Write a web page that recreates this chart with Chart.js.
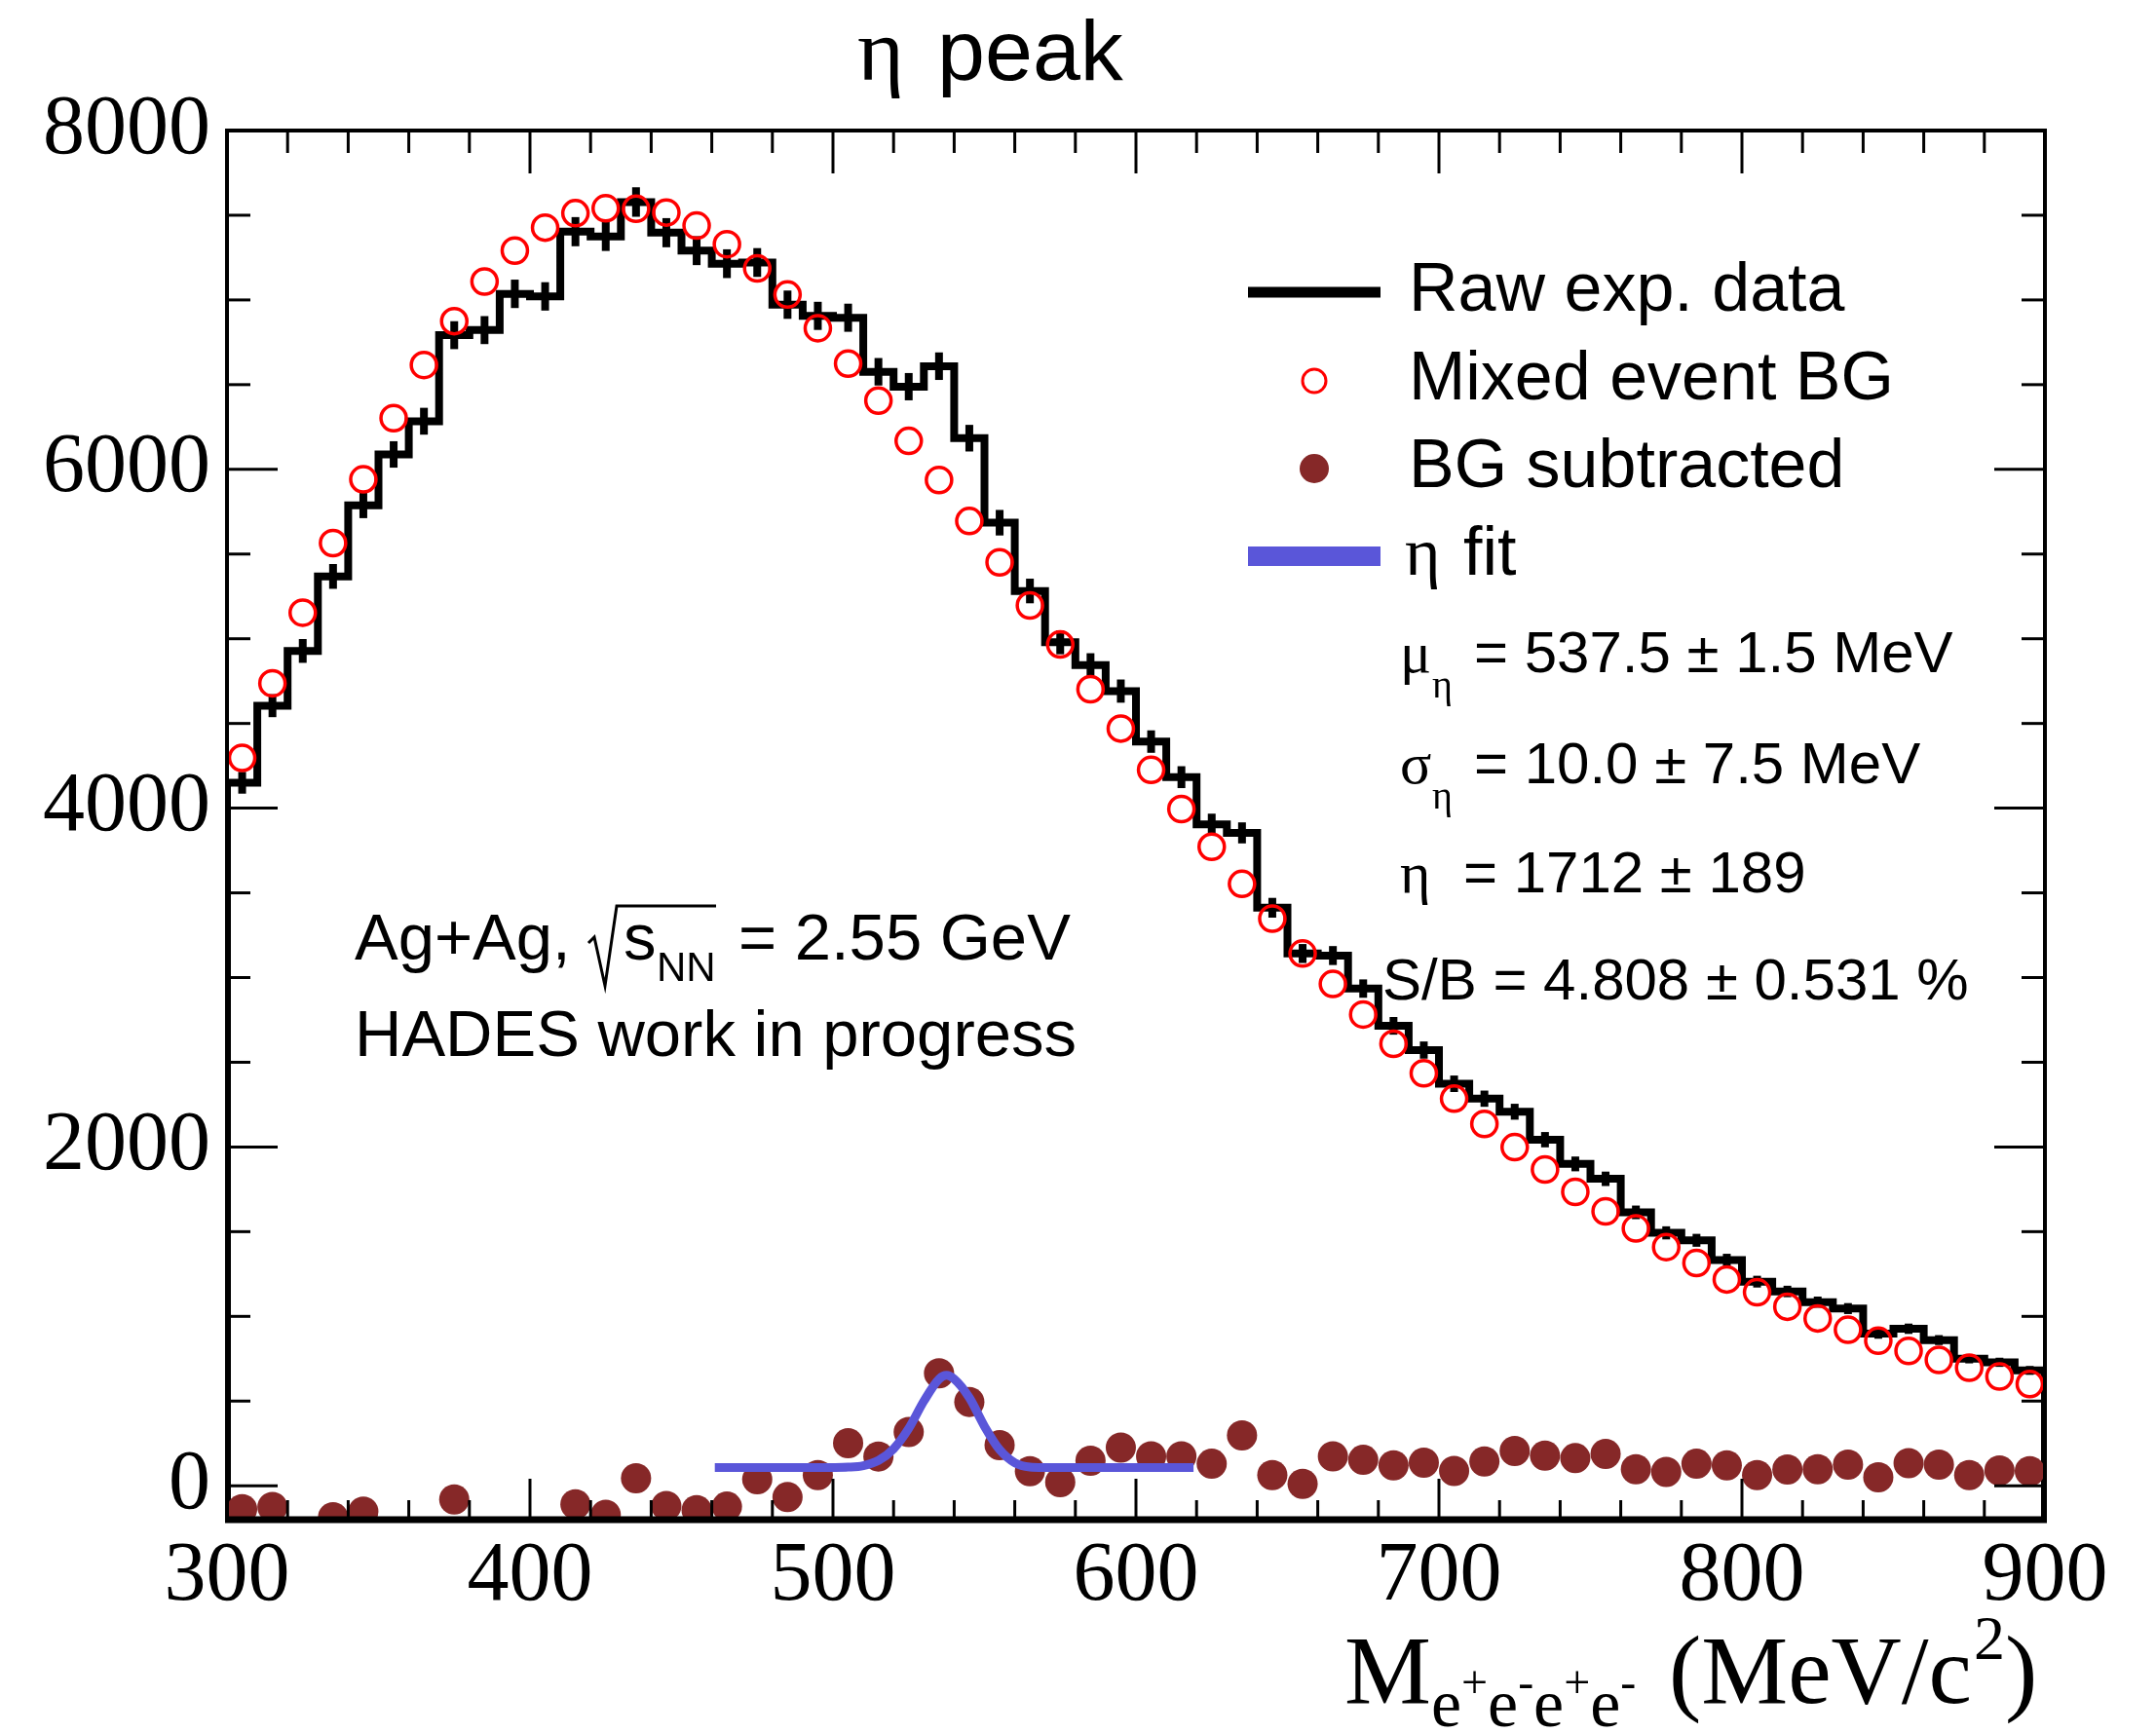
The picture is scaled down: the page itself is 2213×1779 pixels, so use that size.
<!DOCTYPE html>
<html>
<head>
<meta charset="utf-8">
<title>eta peak</title>
<script src="https://cdn.jsdelivr.net/npm/chart.js@4.4.0/dist/chart.umd.min.js"></script>
<style>
  html, body { margin: 0; padding: 0; background: #fff; }
  #wrap { width: 2213px; height: 1779px; position: relative; }
</style>
</head>
<body>
<div id="wrap"><canvas id="chart"></canvas></div>
<script>
// 10 MeV bins, 300..900 MeV
const binWidth = 10;
const massBins = [
  305, 315, 325, 335, 345, 355, 365, 375, 385, 395,
  405, 415, 425, 435, 445, 455, 465, 475, 485, 495,
  505, 515, 525, 535, 545, 555, 565, 575, 585, 595,
  605, 615, 625, 635, 645, 655, 665, 675, 685, 695,
  705, 715, 725, 735, 745, 755, 765, 775, 785, 795,
  805, 815, 825, 835, 845, 855, 865, 875, 885, 895
];
const rawCounts = [
  4150, 4605, 4928, 5368, 5788, 6088, 6284, 6792, 6822, 7036,
  7021, 7403, 7375, 7578, 7397, 7291, 7214, 7221, 6972, 6906,
  6895, 6576, 6488, 6609, 6184, 5685, 5282, 4979, 4845, 4691,
  4393, 4183, 3905, 3854, 3412, 3142, 3130, 2935, 2715, 2572,
  2373, 2285, 2208, 2043, 1900, 1812, 1614, 1493, 1449, 1333,
  1205, 1147, 1084, 1046, 898, 927, 860, 750, 729, 681
];
const mixedBG = [
  4297, 4737, 5154, 5565, 5941, 6302, 6616, 6875, 7109, 7291,
  7427, 7512, 7541, 7538, 7516, 7439, 7329, 7186, 7032, 6833,
  6624, 6406, 6168, 5937, 5695, 5451, 5197, 4966, 4702, 4470,
  4226, 3995, 3772, 3553, 3348, 3142, 2962, 2782, 2609, 2435,
  2285, 2136, 1999, 1867, 1735, 1620, 1519, 1409, 1315, 1218,
  1142, 1057, 988, 921, 856, 796, 743, 697, 645, 601
];
// points below the axis range are not shown in the picture
const bgSubtracted = [
  -138, -125, null, -186, -152, null, null, -81, null, null,
  null, -109, -171, 44, -119, -144, -123, 38, -67, 63,
  251, 173, 318, 664, 495, 240, 86, 21, 148, 226,
  174, 174, 130, 297, 63, 11, 174, 153, 121, 136,
  88, 144, 205, 178, 163, 188, 98, 82, 130, 121,
  63, 96, 98, 125, 50, 134, 125, 63, 90, 86
];
const fitMass = [461, 480, 500, 505, 510, 515, 520, 525, 530, 535, 537.5, 540, 545, 550, 555, 560, 565, 570, 580, 600, 619];
const fitValues = [107, 107, 108, 110, 119, 149, 218, 338, 500, 630, 652, 630, 520, 351, 213, 136, 111, 108, 107, 107, 107];

const xTickLabels = [300, 400, 500, 600, 700, 800, 900];
const yTickLabels = [0, 2000, 4000, 6000, 8000];
const xRange = [300, 900];
const yRange = [-200, 8000];

const SANS = '"Liberation Sans", Arial, Helvetica, sans-serif';
const SERIF = '"Liberation Serif", "Times New Roman", serif';
const RED = '#ff0000';
const BROWN = '#862828';
const BLUE = '#5a56d9';

// step outline of the raw histogram, closed down to the axis at both ends
const histPoints = [{x: massBins[0] - binWidth / 2, y: yRange[0]}];
massBins.forEach((m, i) => {
  histPoints.push({x: m - binWidth / 2, y: rawCounts[i]});
  histPoints.push({x: m + binWidth / 2, y: rawCounts[i]});
});
histPoints.push({x: massBins[massBins.length - 1] + binWidth / 2, y: yRange[0]});

function line(ctx, x0, y0, x1, y1) {
  ctx.beginPath();
  ctx.moveTo(x0, y0);
  ctx.lineTo(x1, y1);
  ctx.stroke();
}

function text(ctx, s, x, y, size, family, align) {
  ctx.font = size + 'px ' + family;
  ctx.textAlign = align || 'left';
  ctx.fillText(s, x, y);
  return ctx.measureText(s).width;
}

const rootStyle = {
  id: 'rootStyle',
  afterDatasetDraw(chart, args) {
    if (args.index !== 0) return;
    // poisson error bars on the raw histogram
    const {ctx, scales: {x, y}} = chart;
    ctx.save();
    ctx.strokeStyle = '#000';
    ctx.lineWidth = 8;
    massBins.forEach((m, i) => {
      const v = rawCounts[i];
      const e = Math.sqrt(v);
      const px = x.getPixelForValue(m);
      line(ctx, px, y.getPixelForValue(v - e), px, y.getPixelForValue(v + e));
    });
    ctx.restore();
  },
  afterDraw(chart) {
    const {ctx, chartArea: a, scales: {x, y}} = chart;
    ctx.save();
    ctx.strokeStyle = '#000';
    ctx.fillStyle = '#000';
    ctx.textBaseline = 'alphabetic';

    // ticks, drawn inward on all four sides
    ctx.lineWidth = 3;
    for (let v = xRange[0]; v <= xRange[1]; v += 20) {
      const px = x.getPixelForValue(v);
      const major = v % 100 === 0;
      line(ctx, px, a.bottom, px, a.bottom - (major ? 42 : 20));
      line(ctx, px, a.top, px, a.top + (major ? 44 : 23));
    }
    for (let v = 0; v <= yRange[1]; v += 500) {
      const py = y.getPixelForValue(v);
      const major = v % 2000 === 0;
      const len = major ? 52 : 24;
      line(ctx, a.left, py, a.left + len, py);
      line(ctx, a.right, py, a.right - len, py);
    }

    // frame
    ctx.lineWidth = 4;
    ctx.strokeRect(a.left, a.top, a.right - a.left, a.bottom - a.top);
    ctx.lineWidth = 7;
    line(ctx, a.left - 2, a.bottom, a.right + 2, a.bottom);

    // title
    text(ctx, 'η', 880, 82, 92, SERIF);
    text(ctx, 'peak', 962, 82, 88, SANS);

    // x axis title
    let cx = 1380;
    cx += text(ctx, 'M', cx, 1748, 100, SERIF);
    const sub = [['e', '+'], ['e', '-'], ['e', '+'], ['e', '-']];
    sub.forEach(([e, s]) => {
      cx += text(ctx, e, cx, 1772, 70, SERIF);
      cx += text(ctx, s, cx, 1743, 48, SERIF);
    });
    cx = 1713;
    cx += text(ctx, '(MeV/c', cx, 1748, 100, SERIF);
    cx += text(ctx, '2', cx + 2, 1703, 64, SERIF) + 2;
    text(ctx, ')', cx, 1748, 100, SERIF);

    // collision system label
    text(ctx, 'Ag+Ag,', 364, 985, 67, SANS);
    ctx.lineWidth = 3;
    ctx.beginPath();
    ctx.moveTo(604, 968);
    ctx.lineTo(610, 962);
    ctx.lineTo(621, 1012);
    ctx.lineTo(633, 930);
    ctx.lineTo(735, 930);
    ctx.stroke();
    text(ctx, 's', 640, 985, 67, SANS);
    text(ctx, 'NN', 674, 1007, 42, SANS);
    text(ctx, '= 2.55 GeV', 758, 985, 67, SANS);
    text(ctx, 'HADES work in progress', 364, 1084, 67, SANS);

    // legend
    ctx.lineCap = 'butt';
    ctx.lineWidth = 11;
    ctx.strokeStyle = '#000';
    line(ctx, 1281, 300, 1417, 300);
    ctx.lineWidth = 3;
    ctx.strokeStyle = RED;
    ctx.beginPath();
    ctx.arc(1349, 391, 12, 0, Math.PI * 2);
    ctx.stroke();
    ctx.fillStyle = BROWN;
    ctx.beginPath();
    ctx.arc(1349, 481, 15, 0, Math.PI * 2);
    ctx.fill();
    ctx.strokeStyle = BLUE;
    ctx.lineWidth = 20;
    line(ctx, 1281, 571, 1417, 571);
    ctx.fillStyle = '#000';
    text(ctx, 'Raw exp. data', 1446, 319, 70, SANS);
    text(ctx, 'Mixed event BG', 1446, 410, 70, SANS);
    text(ctx, 'BG subtracted', 1446, 500, 70, SANS);
    text(ctx, 'η', 1442, 590, 70, SERIF);
    text(ctx, 'fit', 1502, 590, 70, SANS);

    // fit results
    text(ctx, 'μ', 1437, 690, 60, SERIF);
    text(ctx, 'η', 1470, 716, 40, SERIF);
    text(ctx, '= 537.5 ± 1.5 MeV', 1513, 690, 60, SANS);
    text(ctx, 'σ', 1437, 804, 60, SERIF);
    text(ctx, 'η', 1470, 830, 40, SERIF);
    text(ctx, '= 10.0 ± 7.5 MeV', 1513, 804, 60, SANS);
    text(ctx, 'η', 1437, 916, 60, SERIF);
    text(ctx, '= 1712 ± 189', 1502, 916, 60, SANS);
    text(ctx, 'S/B = 4.808 ± 0.531 %', 1419, 1026, 60, SANS);

    ctx.restore();
  }
};

new Chart(document.getElementById('chart'), {
  type: 'scatter',
  data: {
    datasets: [
      {
        label: 'Raw exp. data',
        data: histPoints,
        showLine: true,
        borderColor: '#000',
        borderWidth: 8,
        borderJoinStyle: 'miter',
        pointRadius: 0,
        tension: 0,
        order: 4
      },
      {
        label: 'Mixed event BG',
        data: massBins.map((m, i) => ({x: m, y: mixedBG[i]})),
        pointRadius: 13,
        pointBorderWidth: 3.5,
        pointBorderColor: RED,
        pointBackgroundColor: 'rgba(0,0,0,0)',
        order: 3
      },
      {
        label: 'BG subtracted',
        data: massBins.map((m, i) => ({x: m, y: bgSubtracted[i]})),
        pointRadius: 15.5,
        pointBorderWidth: 0,
        pointBackgroundColor: BROWN,
        clip: {left: 20, top: 20, right: 20, bottom: 0},
        order: 2
      },
      {
        label: 'eta fit',
        data: fitMass.map((m, i) => ({x: m, y: fitValues[i]})),
        showLine: true,
        borderColor: BLUE,
        borderWidth: 9,
        borderCapStyle: 'butt',
        pointRadius: 0,
        cubicInterpolationMode: 'monotone',
        order: 1
      }
    ]
  },
  options: {
    responsive: true,
    maintainAspectRatio: false,
    devicePixelRatio: 1,
    animation: false,
    layout: {padding: {top: 134, right: 114, left: 0, bottom: 0}},
    plugins: {
      legend: {display: false},
      tooltip: {enabled: false},
      title: {display: false}
    },
    scales: {
      x: {
        type: 'linear',
        min: xRange[0],
        max: xRange[1],
        grid: {display: false},
        border: {display: false},
        afterBuildTicks: s => { s.ticks = xTickLabels.map(v => ({value: v})); },
        afterFit: s => { s.height = 219; },
        ticks: {
          color: '#000',
          padding: 0,
          maxRotation: 0,
          autoSkip: false,
          font: {family: SERIF, size: 86},
          callback: v => String(v)
        }
      },
      y: {
        type: 'linear',
        min: yRange[0],
        max: yRange[1],
        grid: {display: false},
        border: {display: false},
        afterBuildTicks: s => { s.ticks = yTickLabels.map(v => ({value: v})); },
        afterFit: s => { s.width = 233; },
        ticks: {
          color: '#000',
          padding: 9,
          font: {family: SERIF, size: 86},
          callback: v => String(v)
        }
      }
    }
  },
  plugins: [rootStyle]
});
</script>
</body>
</html>
